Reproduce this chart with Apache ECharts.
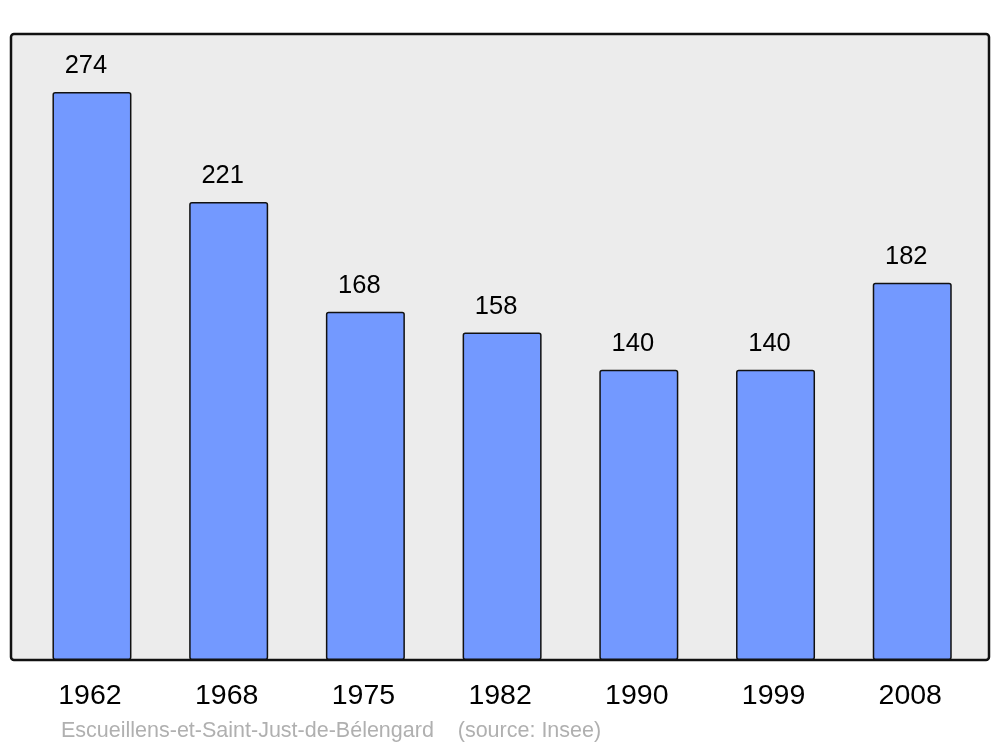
<!DOCTYPE html>
<html>
<head>
<meta charset="utf-8">
<script src="https://cdn.jsdelivr.net/npm/echarts@6/dist/echarts.min.js"></script>
<style>html,body{margin:0;padding:0;background:#fff}#c{width:1000px;height:747px}</style>
</head>
<body>
<div id="c"></div>
<script>
var years = ['1962', '1968', '1975', '1982', '1990', '1999', '2008'];
var population = [274, 221, 168, 158, 140, 140, 182];
var footerText = 'Escueillens-et-Saint-Just-de-Bélengard    (source: Insee)';

var chart = echarts.init(document.getElementById('c'), null, {renderer: 'canvas'});
chart.setOption({
  animation: false,
  backgroundColor: '#ffffff',
  graphic: [
    {type: 'rect', z: -10, shape: {x: 11, y: 34, width: 978, height: 626, r: 3},
     style: {fill: '#ececec', stroke: '#111', lineWidth: 2.5}},
    {type: 'text', left: 61, top: 720,
     style: {text: footerText, fill: '#b0b0b0', font: '21.5px "Liberation Sans", Arial, sans-serif'}}
  ],
  grid: {left: 23.6, width: 957, top: 34, bottom: 87},
  xAxis: {
    type: 'category', data: years,
    axisLine: {show: false}, axisTick: {show: false},
    axisLabel: {fontSize: 28.5, color: '#000', fontFamily: 'Liberation Sans', margin: 22, padding: [0, 4, 0, 0]}
  },
  yAxis: {type: 'value', min: 0, max: 302, show: false, splitLine: {show: false}},
  series: [{
    type: 'bar', data: population, barWidth: 79,
    itemStyle: {color: '#7399ff', borderColor: '#111', borderWidth: 1.5, borderRadius: 2},
    label: {show: true, position: 'top', distance: 13, offset: [-6, 0],
            fontSize: 25.5, color: '#000', fontFamily: 'Liberation Sans'}
  }]
});
</script>
</body>
</html>
